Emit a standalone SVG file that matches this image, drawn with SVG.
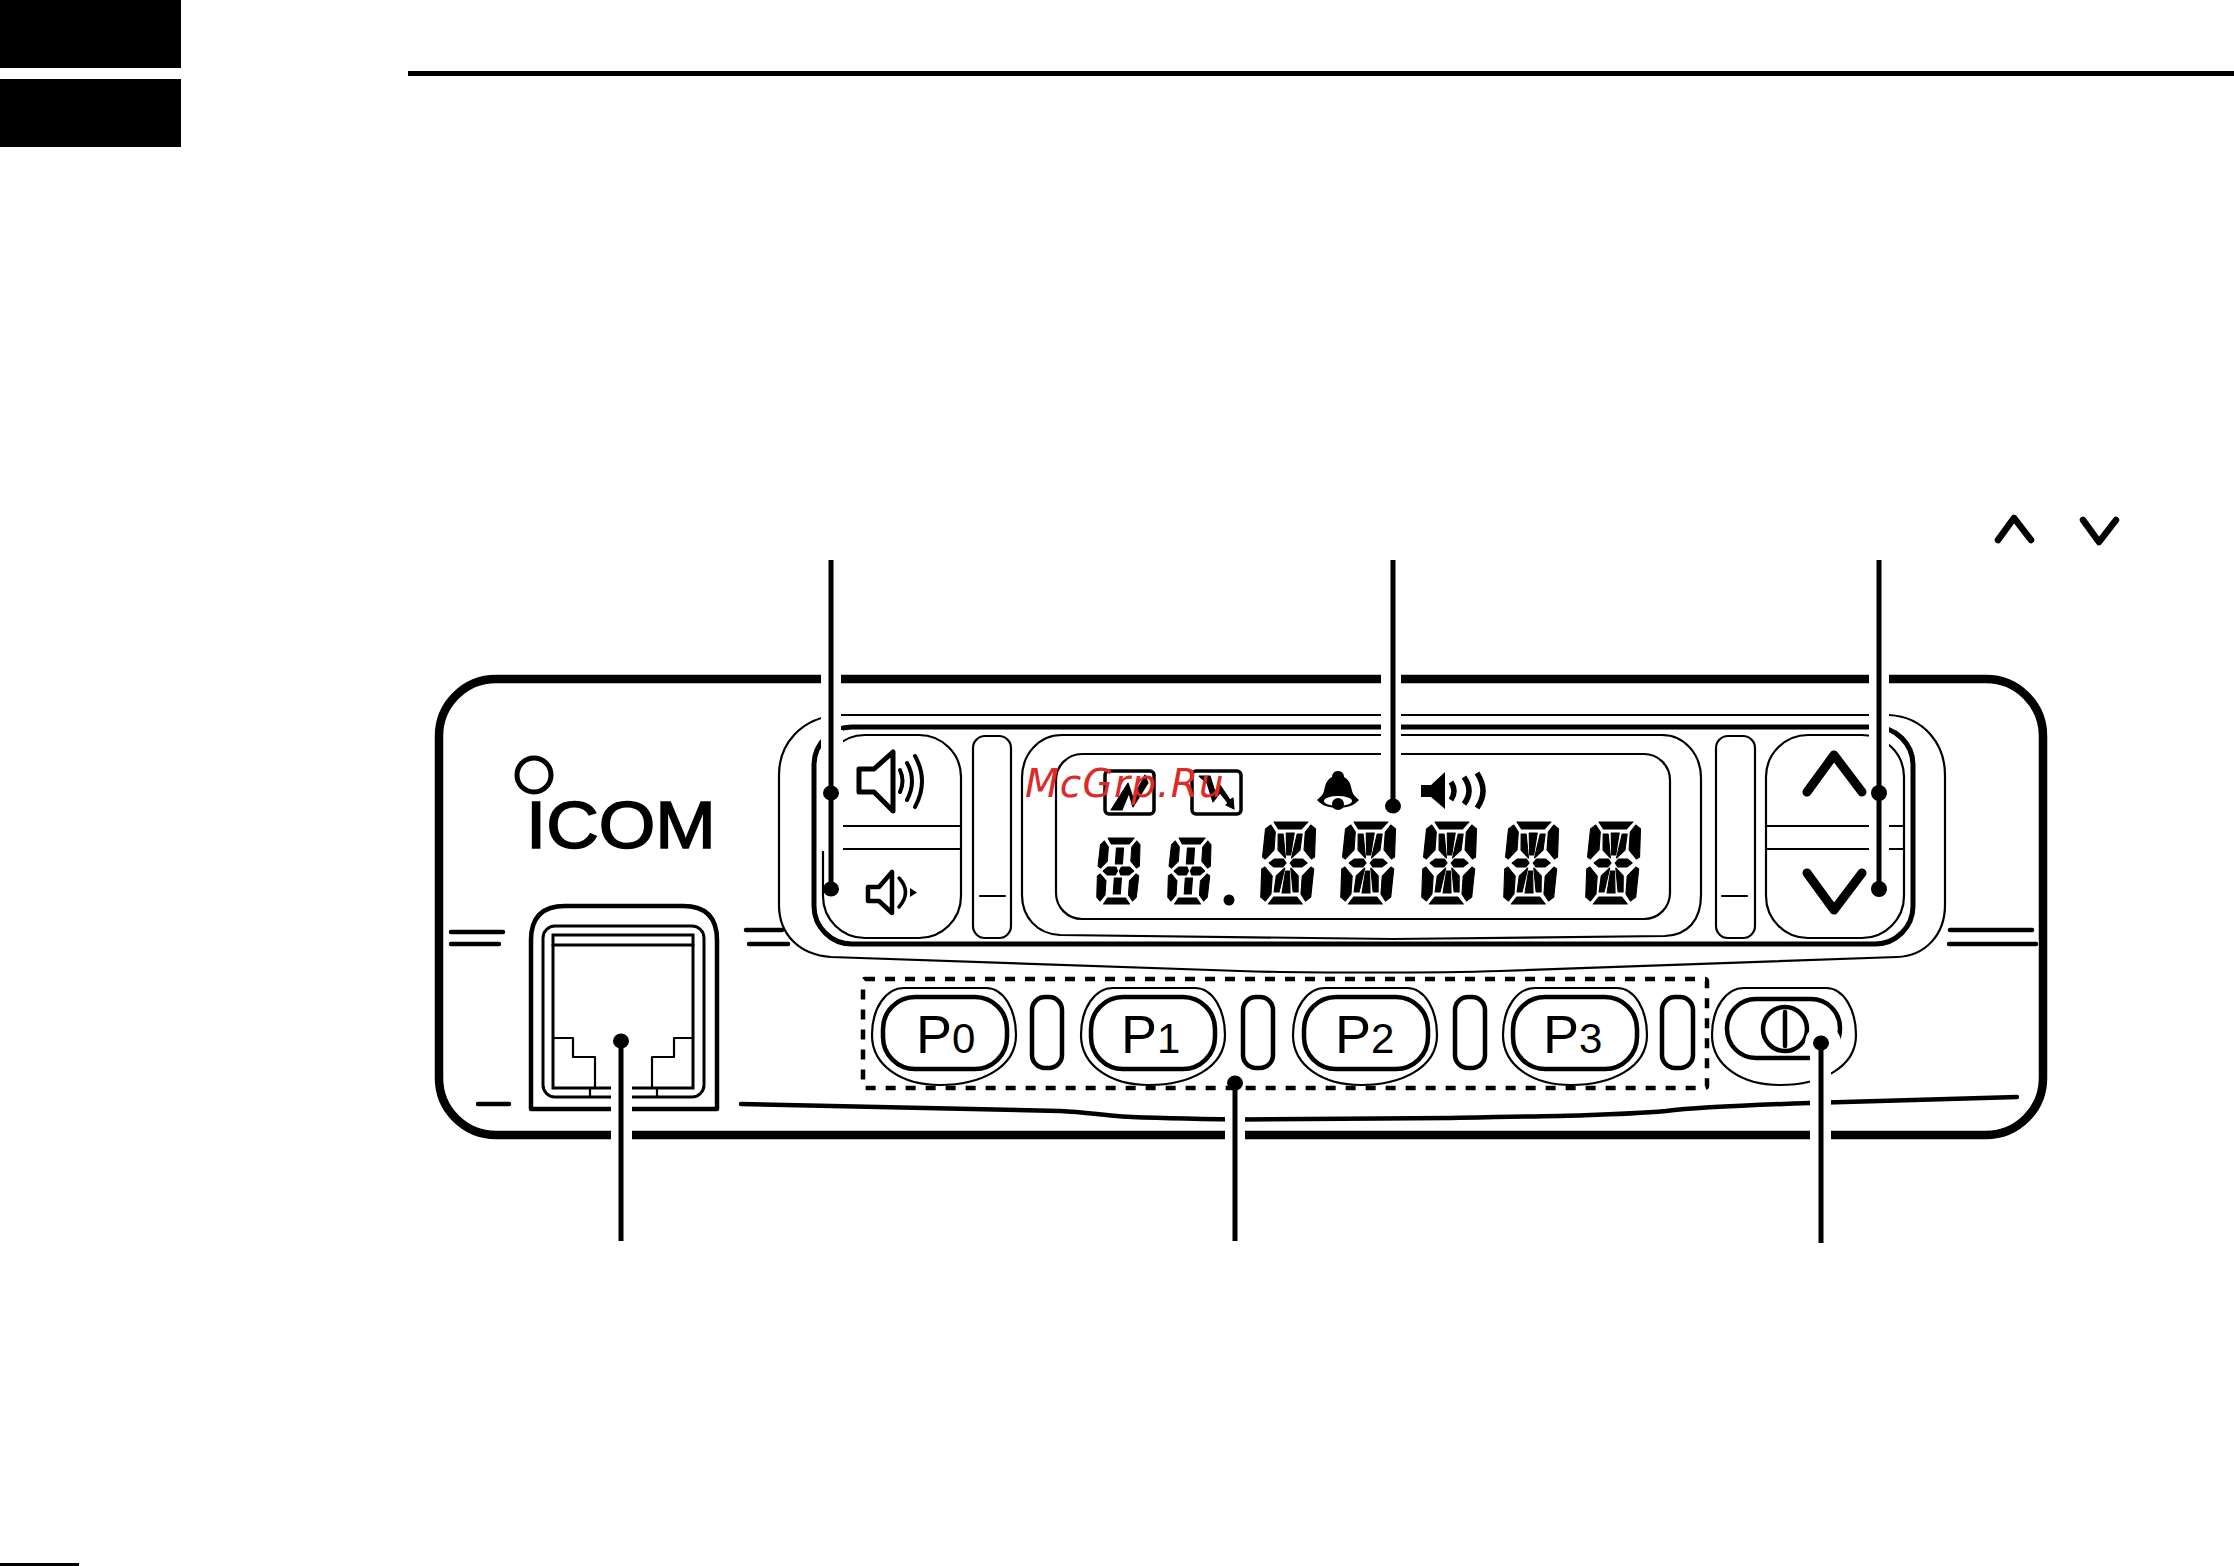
<svg xmlns="http://www.w3.org/2000/svg" xmlns:xlink="http://www.w3.org/1999/xlink" width="2234" height="1566" viewBox="0 0 2234 1566">
<style>
.l{fill:none;stroke:#000;stroke-linecap:round;stroke-linejoin:round}
.t2{stroke-width:2.2}.t3{stroke-width:3}.t4{stroke-width:4.5}
.k{fill:#000}.w{fill:#fff}
.seg{fill:#000;stroke:#000;stroke-width:1.1;stroke-linejoin:round}
.lead{stroke:#000;stroke-width:5;fill:none}
.ptxt{font-family:"Liberation Sans",Arial,sans-serif;font-size:54px;fill:#000}
.ptxt tspan{font-size:42px}
.wm{font-family:"DejaVu Sans",sans-serif;font-style:oblique;font-size:39px;letter-spacing:1.2px;fill:#dc2a2a}
</style>
<defs>
<path id="ring" class="l t2" d="M-40 988H42C60 988 72 1010 72 1035C72 1068 36 1085 -4 1085C-42 1085 -72 1066 -72 1035C-72 1008 -58 988 -40 988Z"/>
<g id="seg14" class="seg">
<polygon points="9,0 43,0 37,7 14,7"/><polygon points="14,75 37,75 43,82 9,82"/>
<polygon points="1,7 6,3 11,10 11,28 3,37 0,35"/><polygon points="51,7 46,3 41,10 41,28 49,37 52,35"/>
<polygon points="1,75 6,79 11,72 11,54 3,45 0,47"/><polygon points="51,75 46,79 41,72 41,54 49,45 52,47"/>
<polygon points="7,41 12,37 21,37 24,41 21,45 12,45"/><polygon points="45,41 40,37 31,37 28,41 31,45 40,45"/>
<polygon points="22,11 30,11 28,33 24,33"/><polygon points="24,49 28,49 30,71 22,71"/>
<polygon points="14,12 19,12 23,36 15,28"/><polygon points="38,12 33,12 29,36 37,28"/>
<polygon points="14,70 19,70 23,46 15,54"/><polygon points="38,70 33,70 29,46 37,54"/>
</g>
<g id="seg7" class="seg">
<polygon points="9,0 38,0 33,6 13,6"/><polygon points="13,60 33,60 38,66 9,66"/>
<polygon points="1,7 5,3 10,9 10,23 3,30 0,28"/><polygon points="45,7 41,3 36,9 36,23 43,30 46,28"/>
<polygon points="1,59 5,63 10,57 10,43 3,36 0,38"/><polygon points="45,59 41,63 36,57 36,43 43,36 46,38"/>
<polygon points="6,33 11,29 20,29 22,33 20,37 11,37"/><polygon points="40,33 35,29 26,29 24,33 26,37 35,37"/>
<polygon points="19,10 27,10 27,26 19,26"/><polygon points="19,40 27,40 27,56 19,56"/>
</g>
</defs>
<rect width="2234" height="1566" fill="#fff"/>
<g id="page-marks">
<rect class="k" x="0" y="0" width="181" height="68"/>
<rect class="k" x="0" y="79" width="181" height="68"/>
<rect class="k" x="408" y="71" width="1826" height="5"/>
<rect class="k" x="0" y="1563" width="79" height="3"/>
<path class="l" stroke-width="6.5" d="M1998 540L2014 518L2031 540"/>
<path class="l" stroke-width="6.5" d="M2083 520L2099 542L2116 520"/>
</g>
<g id="panel">
<rect x="439" y="679" width="1604" height="456" rx="57" fill="none" stroke="#000" stroke-width="8.5"/>
<path class="l t4" d="M451 932H503M451 944H499M746 930H782M749 944H788M1950 930H2032M1949 944H2036M478 1104H509"/>
<path class="l t4" d="M741 1104L1060 1111C1085 1112 1100 1115 1122 1116.5C1160 1118.5 1200 1119 1240 1119.5L1450 1118C1560 1116 1620 1115 1666 1111C1690 1108 1720 1106 1810 1103L2017 1097"/>
</g>
<g id="bezel">
<path class="l t2" d="M840 715H1889C1925 717 1945 745 1945 775V905C1945 935 1925 956 1897 957L1500 971C1440 973 1300 973 1240 971L831 957C800 955 779 935 779 905V775C779 745 800 717 840 715Z"/>
<rect class="l" stroke-width="5" x="814" y="727" width="1099" height="217" rx="38"/>
</g>
<g id="volume-up-down">
<rect class="l t2" x="823" y="735" width="138" height="203" rx="42"/>
<path class="l t2" d="M823 826H961M823 849H961"/>
<path class="l" stroke-width="5" d="M859 769H874L893 752V811L874 792H859Z"/>
<path class="l" stroke-width="4" d="M900 770Q905 781 900 792M907 763Q917 781 907 800M915 756Q929 781 915 807"/>
<path class="l" stroke-width="4.5" d="M868 887H879L892 872V913L879 901H868Z"/>
<path class="l" stroke-width="3.5" d="M899 878Q912 892 899 907"/>
<polygon class="k" points="910,888 917,892.5 910,897"/>
</g>
<g id="slot-left">
<rect class="l t2" x="973" y="736" width="38" height="202" rx="12"/>
<path class="l t2" d="M980 896H1005"/>
</g>
<g id="lcd">
<path class="l t2" d="M1062 735H1662C1685 735 1701 755 1701 778V895C1701 920 1688 935 1665 936L1393 939L1060 935C1037 934 1022 917 1022 895V778C1022 755 1038 735 1062 735Z"/>
<rect class="l t2" x="1056" y="754" width="614" height="165" rx="26"/>
<rect class="l" stroke-width="3.5" x="1105" y="771" width="49" height="43" rx="4"/>
<polygon class="seg" points="1111,810 1128,783 1133,798 1145,775 1148,783 1133,807 1129,793 1122,810"/>
<rect class="l" stroke-width="3.5" x="1192" y="771" width="49" height="43" rx="4"/>
<polygon class="seg" points="1199,776 1210,776 1215,792 1220,785 1230,800 1233,798 1234,809 1226,805 1228,803 1220,793 1213,802 1207,783"/>
<path class="k" d="M1338 771C1334 771 1332 774 1332 777C1326 780 1325 786 1324 791C1323 795 1320 797 1317 800C1322 806 1330 808 1338 808C1346 808 1354 806 1359 800C1356 797 1353 795 1352 791C1351 786 1350 780 1344 777C1344 774 1342 771 1338 771Z"/>
<ellipse class="w" cx="1338" cy="801" rx="14" ry="5"/>
<circle class="k" cx="1338" cy="804" r="6"/>
<polygon class="k" points="1421,785 1431,785 1445,772 1445,809 1431,797 1421,797"/>
<path class="l" stroke-width="5.5" d="M1451 782Q1457 791 1451 800M1464 777Q1474 791 1464 804M1477 773Q1489 791 1477 808" style="stroke-linecap:butt"/>
<use href="#seg7" transform="translate(1100 838) skewX(-4) scale(.9 1)"/>
<use href="#seg7" transform="translate(1171 838) skewX(-4) scale(.9 1)"/>
<circle class="k" cx="1229" cy="900" r="5.5"/>
<use href="#seg14" transform="translate(1265 822) skewX(-4)"/>
<use href="#seg14" transform="translate(1345 822) skewX(-4)"/>
<use href="#seg14" transform="translate(1426 822) skewX(-4)"/>
<use href="#seg14" transform="translate(1508 822) skewX(-4)"/>
<use href="#seg14" transform="translate(1590 822) skewX(-4)"/>
</g>
<g id="slot-right">
<rect class="l t2" x="1716" y="736" width="39" height="202" rx="12"/>
<path class="l t2" d="M1722 896H1747"/>
</g>
<g id="up-down-keys">
<rect class="l t2" x="1766" y="735" width="138" height="203" rx="42"/>
<path class="l t2" d="M1766 826H1904M1766 849H1904"/>
<path class="l" stroke-width="9" d="M1807 792L1834 755L1862 792M1807 873L1834 910L1862 873"/>
</g>
<g id="logo">
<circle class="l" stroke-width="5" cx="534" cy="775" r="17"/>
<text x="526" y="848" font-family="'Liberation Sans',Arial,sans-serif" font-size="66" textLength="190" lengthAdjust="spacingAndGlyphs" stroke="#000" stroke-width="1.6">ICOM</text>
</g>
<g id="mic-jack">
<path class="l t4" d="M531 1109V940Q531 906 565 906H683Q717 906 717 940V1109Z"/>
<rect class="l t3" x="543" y="926" width="161" height="171" rx="12"/>
<rect class="l t3" x="553" y="935" width="140" height="153" style="stroke-linejoin:miter"/>
<path class="l t3" d="M553 945H693"/>
<path class="l t2" d="M553 1038H573V1057H595V1088M693 1038H674V1057H652V1088M590 1088V1097M657 1088V1097"/>
</g>
<g id="prog-keys">
<rect x="863" y="979" width="844" height="109" rx="2" fill="none" stroke="#000" stroke-width="4.5" stroke-dasharray="10 10"/>
<use href="#ring" x="944"/>
<rect class="l t4" x="883" y="997" width="124" height="72" rx="32"/>
<text class="ptxt" x="916" y="1053">P<tspan>0</tspan></text>
<rect class="l t4" x="1032" y="997" width="30" height="71" rx="13"/>
<use href="#ring" x="1153"/>
<rect class="l t4" x="1091" y="997" width="124" height="72" rx="32"/>
<text class="ptxt" x="1121" y="1053">P<tspan>1</tspan></text>
<rect class="l t4" x="1243" y="997" width="30" height="71" rx="13"/>
<use href="#ring" x="1365"/>
<rect class="l t4" x="1304" y="997" width="124" height="72" rx="32"/>
<text class="ptxt" x="1335" y="1053">P<tspan>2</tspan></text>
<rect class="l t4" x="1455" y="997" width="30" height="71" rx="13"/>
<use href="#ring" x="1575"/>
<rect class="l t4" x="1513" y="997" width="124" height="72" rx="32"/>
<text class="ptxt" x="1543" y="1053">P<tspan>3</tspan></text>
<rect class="l t4" x="1662" y="997" width="31" height="71" rx="13"/>
</g>
<g id="power-key">
<use href="#ring" x="1784"/>
<rect class="l t4" x="1727" y="999" width="113" height="59" rx="29"/>
<circle class="l t4" cx="1785" cy="1029" r="22"/>
<path class="l t4" d="M1785 1012V1046"/>
</g>
<g id="connectors">
<rect class="w" x="821" y="560" width="20" height="291"/>
<rect class="w" x="841" y="730" width="2" height="121"/>
<rect class="w" x="1381" y="560" width="20" height="240"/>
<rect class="w" x="1869" y="560" width="20" height="295"/>
<rect class="w" x="611" y="1060" width="21" height="85"/>
<rect class="w" x="1225" y="1095" width="20" height="50"/>
<rect class="w" x="1810" y="1040" width="21" height="105"/>
<circle class="w" cx="1823" cy="1043" r="18"/>
<path class="lead" d="M831 560V889M1393 560V806M1879 560V889M621 1041V1241M1235 1083V1241M1821 1043V1243"/>
<ellipse class="k" cx="831" cy="793" rx="8" ry="7.5"/>
<ellipse class="k" cx="831" cy="889" rx="8" ry="7.5"/>
<ellipse class="k" cx="1393" cy="806" rx="8" ry="7.5"/>
<circle class="k" cx="1879" cy="793" r="8"/>
<circle class="k" cx="1879" cy="889" r="8"/>
<ellipse class="k" cx="621" cy="1041" rx="8" ry="7.5"/>
<ellipse class="k" cx="1235" cy="1083" rx="8" ry="7.5"/>
<ellipse class="k" cx="1821" cy="1043" rx="8" ry="7.5"/>
</g>
<text class="wm" x="1025" y="797">McGrp.Ru</text>
</svg>
